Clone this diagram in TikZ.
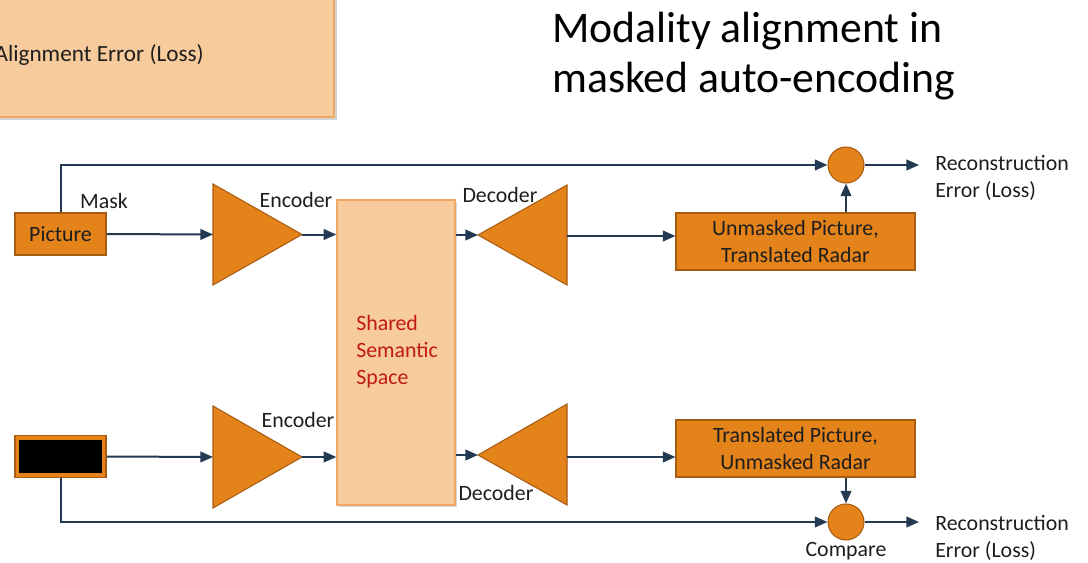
\documentclass[tikz,border=0pt]{standalone}
\usepackage{fontspec}
\setmainfont{Carlito}
\usetikzlibrary{arrows.meta,shadows}
\definecolor{boxorange}{HTML}{E5831B}
\definecolor{boxedge}{HTML}{A85C12}
\definecolor{paleorange}{HTML}{F8CB9C}
\definecolor{paleedge}{HTML}{EDA866}
\definecolor{wire}{HTML}{233A52}
\definecolor{txt}{HTML}{1E1E1E}
\definecolor{spacered}{HTML}{C01A14}
\tikzset{
  lbl/.style={font=\fontsize{16.4}{20.2}\selectfont, text=txt, inner sep=0pt, align=left},
  stage/.style={draw=boxedge, fill=boxorange, line width=0.8pt, inner sep=0pt,
    font=\fontsize{16.4}{20.2}\selectfont, text=txt, align=center},
  cmp/.style={circle, draw=boxedge, fill=boxorange, line width=0.8pt,
    minimum size=27pt, inner sep=0pt},
  tri/.style={draw=boxedge, fill=boxorange, line width=0.8pt, line join=miter},
  wireline/.style={draw=wire, line width=1.5pt},
  flow/.style={wireline, -{Triangle[length=9.5pt,width=8pt]}},
}
\begin{document}
\begin{tikzpicture}[x=0.75pt, y=-0.75pt]
\useasboundingbox (0,0) rectangle (1088,563);
\clip (0,0) rectangle (1088,563);

% loss box cut by the left edge
\node[draw=paleedge, fill=paleorange, line width=1pt, minimum width=276pt,
  minimum height=102.75pt, inner sep=0pt,
  drop shadow={shadow xshift=2pt, shadow yshift=-2pt, opacity=0.35}]
  (align) at (150,48.5) {};
\node[lbl, anchor=east, font=\fontsize{17.4}{20.2}\selectfont] (alignlbl) at (204,55)
  {Alignment Error (Loss)};

% title
\node[font=\fontsize{32.8}{37.5}\selectfont, text=black, align=left, anchor=north west,
  inner sep=0pt] (title) at (552,12) {Modality alignment in\\masked auto-encoding};

% inputs
\node[stage, minimum width=68.25pt, minimum height=31.5pt] (pic) at (60.5,234) {Picture};
\node[stage, minimum width=68.25pt, minimum height=31pt,
  path picture={\fill[black]
    ([shift={(3pt,3pt)}]path picture bounding box.south west) rectangle
    ([shift={(-3pt,-3pt)}]path picture bounding box.north east);}]
  (radar) at (60.5,456.5) {};

% shared semantic space
\node[draw=paleedge, fill=paleorange, line width=1pt, minimum width=88.5pt,
  minimum height=228.75pt, inner sep=0pt,
  drop shadow={shadow xshift=1.5pt, shadow yshift=-1.5pt, opacity=0.3}]
  (shared) at (396,352.5) {};
\node[lbl, text=spacered, anchor=west] (sharedlbl) at (356,352)
  {Shared\\Semantic\\Space};

% encoders and decoders
\path[tri] (213,184) -- (302,234.5) -- (213,285) -- cycle;
\coordinate (enc1in) at (213,234.5);
\coordinate (enc1out) at (302,234.5);
\path[tri] (213,406) -- (302,457) -- (213,508) -- cycle;
\coordinate (enc2in) at (213,457);
\coordinate (enc2out) at (302,457);
\path[tri] (567,185) -- (478,235) -- (567,285) -- cycle;
\coordinate (dec1in) at (478,235);
\coordinate (dec1out) at (567,236);
\path[tri] (567,404) -- (478,455) -- (567,505) -- cycle;
\coordinate (dec2in) at (478,455);
\coordinate (dec2out) at (567,457);

% reconstructed outputs
\node[stage, minimum width=179.25pt, minimum height=42.75pt] (out1) at (795.5,241.5)
  {Unmasked Picture,\\Translated Radar};
\node[stage, minimum width=179.25pt, minimum height=42.75pt] (out2) at (795.5,448.5)
  {Translated Picture,\\Unmasked Radar};

% comparators
\node[cmp] (cmp1) at (846,165) {};
\node[cmp] (cmp2) at (846,522) {};
\coordinate (loss1) at (919,165);
\coordinate (loss2) at (919,522);

% labels
\node[lbl] (mask) at (104,201) {Mask};
\node[lbl] (enc1lbl) at (296,200) {Encoder};
\node[lbl] (enc2lbl) at (298,420) {Encoder};
\node[lbl] (dec1lbl) at (500,195) {Decoder};
\node[lbl] (dec2lbl) at (496,493) {Decoder};
\node[lbl] (cmplbl) at (846,551) {Compare};
\node[lbl, anchor=west] (loss1lbl) at (935,178) {Reconstruction\\Error (Loss)};
\node[lbl, anchor=west] (loss2lbl) at (935,538) {Reconstruction\\Error (Loss)};

% top path
\draw[flow] (pic.east) -- (enc1in);
\draw[flow] (enc1out) -- (enc1out -| shared.west);
\draw[flow] (dec1in -| shared.east) -- (dec1in);
\draw[flow] (dec1out) -- (dec1out -| out1.west);
\draw[flow] (cmp1.south |- out1.north) -- (cmp1.south);
\draw[flow] (pic.north) |- (cmp1.west);
\draw[flow] (cmp1.east) -- (loss1);

% bottom path
\draw[flow] (radar.east) -- (enc2in);
\draw[flow] (enc2out) -- (enc2out -| shared.west);
\draw[flow] (dec2in -| shared.east) -- (dec2in);
\draw[flow] (dec2out) -- (dec2out -| out2.west);
\draw[flow] (cmp2.north |- out2.south) -- (cmp2.north);
\draw[flow] (radar.south) |- (cmp2.west);
\draw[flow] (cmp2.east) -- (loss2);
\end{tikzpicture}
\end{document}
